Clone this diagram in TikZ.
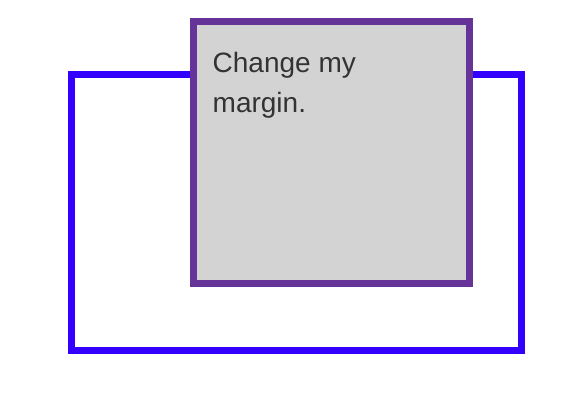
\documentclass[tikz,border=0pt]{standalone}
\usepackage{fontspec}
\setmainfont{Liberation Sans}
\definecolor{outerblue}{HTML}{3300FF}
\definecolor{purpleb}{HTML}{663399}
\definecolor{boxgray}{HTML}{D3D3D3}
\definecolor{txt}{HTML}{333333}
\begin{document}
\begin{tikzpicture}[x=1pt,y=-1pt,
  outerbox/.style={draw=outerblue,line width=7pt},
  innerbox/.style={draw=purpleb,fill=boxgray,line width=7pt},
  label/.style={anchor=base west,inner sep=0pt,text=txt,font=\fontsize{28pt}{40pt}\selectfont}]
\useasboundingbox (0,0) rectangle (579,408);
\draw[outerbox] (71.5,74.5) rectangle (521.5,350.5);
\draw[innerbox] (193.5,21.5) rectangle (469.5,283.5);
\node[label] (l1) at (212.5,72) {Change my};
\node[label] (l2) at (212.5,112.5) {margin.};
\end{tikzpicture}
\end{document}
